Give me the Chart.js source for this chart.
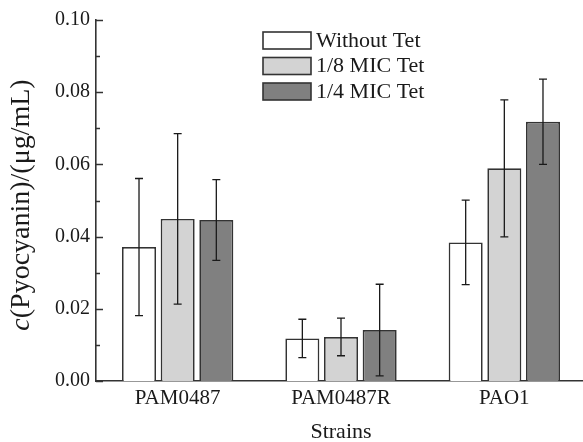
<!DOCTYPE html>
<html>
<head>
<meta charset="utf-8">
<script src="https://cdn.jsdelivr.net/npm/chart.js@4.4.1/dist/chart.umd.min.js"></script>
<style>
	html, body { margin: 0; padding: 0; background: #fff; overflow: hidden; }
	#wrap { position: relative; width: 586px; height: 448px; }
</style>
</head>
<body>
<div id="wrap"><canvas id="chart"></canvas></div>
<script>
const strains = ['PAM0487', 'PAM0487R', 'PAO1'];
const seriesLabels = ['Without Tet', '1/8 MIC Tet', '1/4 MIC Tet'];
const withoutTet = [0.0371, 0.0118, 0.0384];
const withoutTetErr = [0.019, 0.0053, 0.0117];
const mic8Tet = [0.0449, 0.0122, 0.0589];
const mic8TetErr = [0.0236, 0.0052, 0.019];
const mic4Tet = [0.0446, 0.0141, 0.0718];
const mic4TetErr = [0.0112, 0.0127, 0.0118];
const yMin = 0;
const yMax = 0.1;
const yStep = 0.01;

const serif = 'Liberation Serif, Times New Roman, serif';
const ink = '#1a1a1a';
const edge = '#333333';

// whiskers drawn from each bar's own position and the y scale
const errorBars = {
	id: 'errorBars',
	afterDatasetsDraw(chart) {
		const ctx = chart.ctx;
		const y = chart.scales.y;
		ctx.save();
		ctx.strokeStyle = ink;
		ctx.lineWidth = 1.3;
		chart.data.datasets.forEach((ds, i) => {
			const meta = chart.getDatasetMeta(i);
			meta.data.forEach((bar, j) => {
				const v = ds.data[j];
				const e = ds.errors[j];
				const top = y.getPixelForValue(v + e);
				const bot = y.getPixelForValue(Math.max(v - e, yMin));
				ctx.beginPath();
				ctx.moveTo(bar.x, top);
				ctx.lineTo(bar.x, bot);
				ctx.moveTo(bar.x - 4, top);
				ctx.lineTo(bar.x + 4, top);
				ctx.moveTo(bar.x - 4, bot);
				ctx.lineTo(bar.x + 4, bot);
				ctx.stroke();
			});
		});
		ctx.restore();
	},
};

// inward ticks on the y axis, longer at labelled values
const innerTicks = {
	id: 'innerTicks',
	afterDraw(chart) {
		const ctx = chart.ctx;
		const y = chart.scales.y;
		const x0 = chart.chartArea.left;
		ctx.save();
		ctx.strokeStyle = edge;
		ctx.lineWidth = 1.5;
		y.ticks.forEach((t) => {
			const py = Math.round(y.getPixelForValue(t.value)) + 0.5;
			const major = Math.round(t.value * 100) % 2 === 0;
			ctx.beginPath();
			ctx.moveTo(x0, py);
			ctx.lineTo(x0 + (major ? 7 : 4), py);
			ctx.stroke();
		});
		ctx.restore();
	},
};

// legend boxes sit inside the plot, upper middle
const boxLegend = {
	id: 'boxLegend',
	afterDraw(chart) {
		const ctx = chart.ctx;
		ctx.save();
		chart.data.datasets.forEach((ds, i) => {
			const top = 32 + i * 25.5;
			ctx.fillStyle = ds.backgroundColor;
			ctx.fillRect(263, top, 48, 17);
			ctx.strokeStyle = ds.borderColor;
			ctx.lineWidth = 1.6;
			ctx.strokeRect(263, top, 48, 17);
			ctx.fillStyle = ink;
			ctx.font = '22px ' + serif;
			ctx.textBaseline = 'middle';
			ctx.fillText(ds.label, 316, top + 9);
		});
		ctx.restore();
	},
};

// y title with italic c, rotated
const yTitle = {
	id: 'yTitle',
	afterDraw(chart) {
		const ctx = chart.ctx;
		ctx.save();
		ctx.translate(22, 205);
		ctx.rotate(-Math.PI / 2);
		ctx.fillStyle = ink;
		ctx.textBaseline = 'middle';
		const italic = 'italic 28px ' + serif;
		const plain = '28px ' + serif;
		ctx.font = italic;
		const w1 = ctx.measureText('c').width;
		ctx.font = plain;
		const rest = '(Pyocyanin)/(μg/mL)';
		const w2 = ctx.measureText(rest).width;
		const start = -(w1 + w2) / 2;
		ctx.font = italic;
		ctx.fillText('c', start, 0);
		ctx.font = plain;
		ctx.fillText(rest, start + w1, 0);
		ctx.restore();
	},
};

function makeDataset(label, values, errors, fill) {
	return {
		label: label,
		data: values,
		errors: errors,
		backgroundColor: fill,
		borderColor: edge,
		borderWidth: 1.7,
		categoryPercentage: 0.71,
		barPercentage: 0.88,
	};
}

function createChart() {
	const ctx = document.getElementById('chart').getContext('2d');
	new Chart(ctx, {
		type: 'bar',
		data: {
			labels: strains,
			datasets: [
				makeDataset(seriesLabels[0], withoutTet, withoutTetErr, '#ffffff'),
				makeDataset(seriesLabels[1], mic8Tet, mic8TetErr, '#d3d3d3'),
				makeDataset(seriesLabels[2], mic4Tet, mic4TetErr, '#808080'),
			],
		},
		options: {
			responsive: true,
			maintainAspectRatio: false,
			animation: false,
			layout: { padding: { top: 20, right: 0, bottom: 0, left: 0 } },
			plugins: {
				legend: { display: false },
				tooltip: { enabled: false },
			},
			scales: {
				x: {
					grid: { display: false, drawTicks: false },
					border: { color: edge, width: 1.6 },
					ticks: { color: ink, font: { family: serif, size: 21 }, padding: 5 },
					title: { display: true, text: 'Strains', color: ink, font: { family: serif, size: 22 }, padding: { top: 0, bottom: 3 } },
					afterFit: function (scale) {
						scale.height = 67;
					},
				},
				y: {
					min: yMin,
					max: yMax,
					grid: { display: false, drawTicks: false },
					border: { color: edge, width: 1.6 },
					ticks: {
						stepSize: yStep,
						color: ink,
						padding: 6,
						font: { family: serif, size: 20 },
						callback: function (value) {
							if (Math.round(value * 100) % 2 !== 0) {
								return '';
							}
							return value.toFixed(2);
						},
					},
					afterFit: function (scale) {
						scale.width = 96;
					},
				},
			},
		},
		plugins: [errorBars, innerTicks, boxLegend, yTitle],
	});
}

createChart();
</script>
</body>
</html>
